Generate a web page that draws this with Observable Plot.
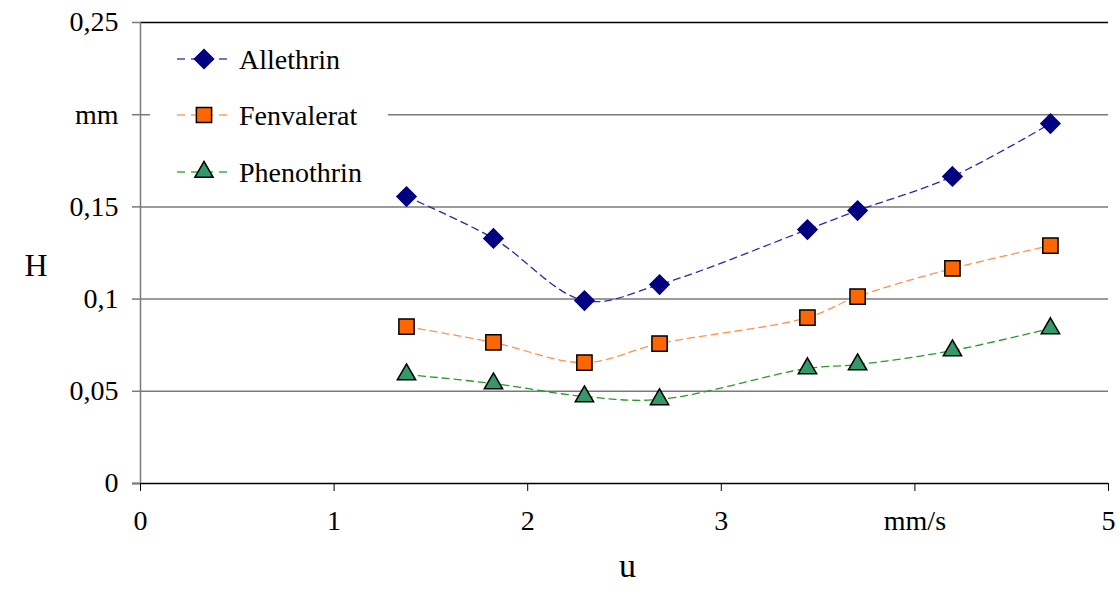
<!DOCTYPE html>
<html>
<head>
<meta charset="utf-8">
<script src="https://cdn.jsdelivr.net/npm/d3@7"></script>
<script src="https://cdn.jsdelivr.net/npm/@observablehq/plot@0.6"></script>
<style>
  html, body { margin: 0; padding: 0; background: #fff; }
  #wrap { position: relative; width: 1120px; height: 594px; }
  #wrap, #wrap svg, #wrap text { font-family: "Liberation Serif", "Times New Roman", Times, "DejaVu Serif", serif !important; }
  #legend { position: absolute; left: 150px; top: 30px; width: 238px; height: 170px; background: #fff; }
</style>
</head>
<body>
<div id="wrap"><div id="legend"></div></div>
<script>
const u = [1.374, 1.823, 2.293, 2.681, 3.445, 3.704, 4.194, 4.700];
const allethrin  = [0.1556, 0.1329, 0.0992, 0.1079, 0.1377, 0.1480, 0.1665, 0.1952];
const fenvalerat = [0.0851, 0.0765, 0.0656, 0.0759, 0.0900, 0.1014, 0.1166, 0.1290];
const phenothrin = [0.0591, 0.0542, 0.0472, 0.0456, 0.0624, 0.0645, 0.0721, 0.0841];
const seriesNames = ["Allethrin", "Fenvalerat", "Phenothrin"];
const seriesValues = [allethrin, fenvalerat, phenothrin];
const symbols = ["diamond2", "square", "triangle"];
const fills = ["#000080", "#ff6600", "#339966"];
const markerStrokes = ["#000080", "#000000", "#000000"];
const lineColors = ["#2b2ba3", "#ff9150", "#2a9a2a"];
const radii = [8.6, 8.6, 6.8];
const yTicks = [0, 0.05, 0.1, 0.15, 0.2, 0.25];
const yTickLabels = ["0", "0,05", "0,1", "0,15", "mm", "0,25"];
const xTicks = [0, 1, 2, 3, 4, 5];
const xTickLabels = ["0", "1", "2", "3", "mm/s", "5"];
const gridY = [0.05, 0.1, 0.15, 0.2];

const FONT = "'Liberation Serif', 'Times New Roman', Times, 'DejaVu Serif', serif";

const rows = [];
seriesNames.forEach((s, i) => u.forEach((x, j) => rows.push({series: s, u: x, H: seriesValues[i][j], i})));

const marks = [
  Plot.ruleY(gridY, {stroke: "#7a7a7a", strokeWidth: 1.5}),
  Plot.ruleY([0.25], {stroke: "#000", strokeWidth: 1.5}),
  Plot.ruleY([0], {stroke: "#000", strokeWidth: 1.5, x1: -0.041, x2: 5}),
  Plot.ruleX([0], {stroke: "#7a7a7a", strokeWidth: 1.5, y1: 0, y2: 0.25}),
  Plot.axisY(yTicks, {tickSize: 8, tickPadding: 14, stroke: "#7a7a7a", strokeWidth: 1.5, fontSize: 28, fill: "#000",
    tickFormat: d => yTickLabels[yTicks.indexOf(d)], label: null}),
  Plot.axisX(xTicks, {tickSize: 8, tickPadding: 19, stroke: "#000", strokeWidth: 1, fontSize: 28, fill: "#000",
    tickFormat: d => xTickLabels[xTicks.indexOf(d)], label: null}),
  Plot.text(["H"], {frameAnchor: "left", dx: -116, dy: 13, fontSize: 32, fill: "#000"}),
  Plot.text(["u"], {frameAnchor: "bottom", dx: 3, dy: 93, fontSize: 34, fill: "#000"})
];
seriesNames.forEach((s, i) => {
  const d = rows.filter(r => r.i === i);
  marks.push(Plot.line(d, {x: "u", y: "H", stroke: lineColors[i], strokeWidth: 1.3, strokeDasharray: "7,5", curve: "catmull-rom"}));
});
seriesNames.forEach((s, i) => {
  const d = rows.filter(r => r.i === i);
  marks.push(Plot.dot(d, {x: "u", y: "H", symbol: () => symbols[i], fill: fills[i], stroke: markerStrokes[i], strokeWidth: 1.5, r: radii[i]}));
});

const chart = Plot.plot({
  width: 1120,
  height: 594,
  marginLeft: 140,
  marginRight: 12,
  marginTop: 22,
  marginBottom: 111,
  style: {fontFamily: FONT, background: "#fff", overflow: "visible"},
  x: {domain: [0, 5]},
  y: {domain: [0, 0.25]},
  symbol: {type: "identity"},
  marks
});
const wrap = document.getElementById("wrap");
wrap.insertBefore(chart, wrap.firstChild);

// legend
const leg = d3.select("#legend").append("svg").attr("width", 238).attr("height", 170)
  .style("font-family", FONT);
const rowY = [29, 85, 142];
seriesNames.forEach((s, i) => {
  const g = leg.append("g").attr("transform", `translate(0,${rowY[i]})`);
  g.append("line").attr("x1", 25).attr("x2", 80).attr("y1", 0).attr("y2", 0)
    .attr("stroke", lineColors[i]).attr("stroke-width", 1.3).attr("stroke-dasharray", "8,6").attr("stroke-dashoffset", -2)
    .attr("opacity", 0.85);
  const sym = {diamond2: d3.symbolDiamond2, square: d3.symbolSquare, triangle: d3.symbolTriangle}[symbols[i]];
  g.append("path").attr("transform", "translate(54,0)")
    .attr("d", d3.symbol(sym, Math.PI * radii[i] * radii[i])())
    .attr("fill", fills[i]).attr("stroke", markerStrokes[i]).attr("stroke-width", 1.5);
  g.append("text").attr("x", 89).attr("y", 0).attr("dy", "0.35em").attr("font-size", 28).attr("fill", "#000").text(s);
});
</script>
</body>
</html>
